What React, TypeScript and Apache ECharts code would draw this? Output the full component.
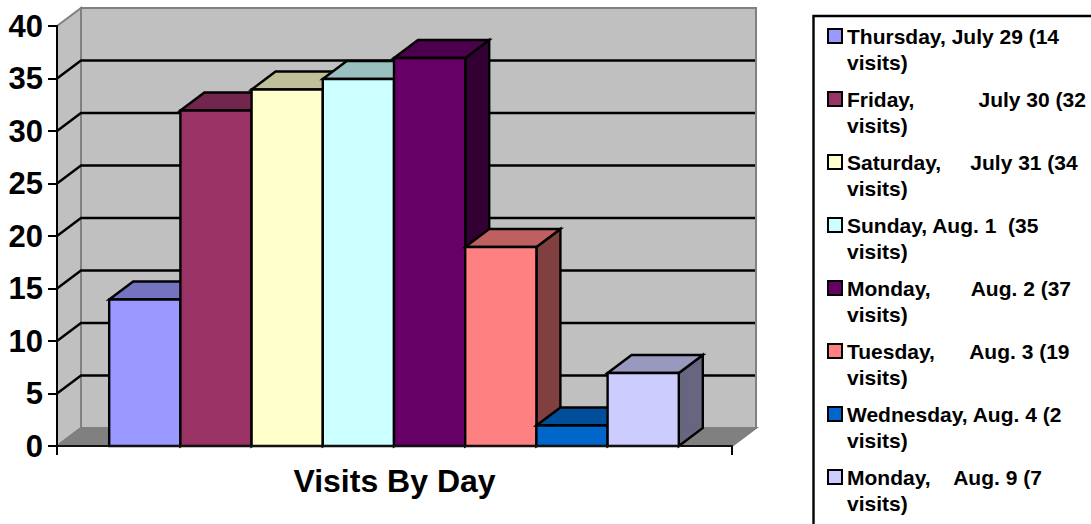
import React, { useEffect, useRef } from "react";
import * as echarts from "echarts";

const axisCategories = ["Visits By Day"];
const dayNames = [
  "Thursday, July 29 (14 visits)",
  "Friday,           July 30 (32 visits)",
  "Saturday,     July 31 (34 visits)",
  "Sunday, Aug. 1  (35 visits)",
  "Monday,       Aug. 2 (37 visits)",
  "Tuesday,      Aug. 3 (19 visits)",
  "Wednesday, Aug. 4 (2 visits)",
  "Monday,    Aug. 9 (7 visits)",
];
const visits = [14, 32, 34, 35, 37, 19, 2, 7];
const barColors = ["#9999FF", "#993366", "#FFFFCC", "#CCFFFF", "#660066", "#FF8080", "#0066CC", "#CCCCFF"];
const gridValues = [5, 10, 15, 20, 25, 30, 35];
const wallValues = [0, 40];

const DEPTH_X = 24;
const DEPTH_Y = -18;
const SLOTS = 9.48;
const FONT = '"Liberation Sans", Arial, sans-serif';

const shade = (hex: string, k: number) => {
  const n = parseInt(hex.slice(1), 16);
  const c = [(n >> 16) & 255, (n >> 8) & 255, n & 255].map((v) => Math.round(v * k));
  return `rgb(${c[0]},${c[1]},${c[2]})`;
};

const renderWalls = (params: any, api: any) => {
  const cs = params.coordSys;
  const left = cs.x;
  const right = cs.x + cs.width;
  const y0 = api.coord([0, wallValues[0]])[1];
  const y1 = api.coord([0, wallValues[1]])[1];
  const gray = "#808080";
  const poly = (points: number[][], fill: string) => ({
    type: "polygon",
    shape: { points },
    style: { fill, stroke: gray, lineWidth: 2 },
  });
  const children: any[] = [
    poly([[left, y1], [left + DEPTH_X, y1 + DEPTH_Y], [left + DEPTH_X, y0 + DEPTH_Y], [left, y0]], "#C0C0C0"),
    poly([[left + DEPTH_X, y1 + DEPTH_Y], [right + DEPTH_X, y1 + DEPTH_Y], [right + DEPTH_X, y0 + DEPTH_Y], [left + DEPTH_X, y0 + DEPTH_Y]], "#C0C0C0"),
    poly([[left, y0], [left + DEPTH_X, y0 + DEPTH_Y], [right + DEPTH_X, y0 + DEPTH_Y], [right, y0]], "#808080"),
  ];
  gridValues.forEach((v) => {
    const y = api.coord([0, v])[1];
    children.push({
      type: "polyline",
      shape: { points: [[left, y], [left + DEPTH_X, y + DEPTH_Y], [right + DEPTH_X - 1, y + DEPTH_Y]] },
      style: { fill: "none", stroke: "#000", lineWidth: 2.4 },
    });
  });
  return { type: "group", children };
};

const renderBar = (index: number) => (_params: any, api: any) => {
  const band = api.size([1, 0])[0];
  const w = band / SLOTS;
  const center = api.coord([0, 0])[0];
  const x0 = center + (index - visits.length / 2) * w - 0.5;
  const x1 = x0 + w;
  const yB = api.coord([0, 0])[1];
  const yT = api.coord([0, api.value(1)])[1] + 0.5;
  const color = barColors[index];
  const face = (points: number[][], fill: string) => ({
    type: "polygon",
    shape: { points },
    style: { fill, stroke: "#000", lineWidth: 2.4, lineJoin: "miter" },
  });
  return {
    type: "group",
    children: [
      face([[x1, yT], [x1 + DEPTH_X, yT + DEPTH_Y], [x1 + DEPTH_X, yB + DEPTH_Y], [x1, yB]], shade(color, 0.5)),
      face([[x0, yT], [x0 + DEPTH_X, yT + DEPTH_Y], [x1 + DEPTH_X, yT + DEPTH_Y], [x1, yT]], shade(color, 0.75)),
      face([[x0, yT], [x1, yT], [x1, yB], [x0, yB]], color),
    ],
  };
};

export default function App() {
  const ref = useRef<HTMLDivElement>(null);
  useEffect(() => {
    const chart = echarts.init(ref.current!, undefined, { renderer: "svg" });
    chart.setOption({
      animation: false,
      backgroundColor: "#fff",
      textStyle: { fontFamily: FONT },
      grid: { left: 57, top: 26, width: 675, height: 420 },
      xAxis: {
        type: "category",
        data: axisCategories,
        z: 5,
        axisLine: { lineStyle: { color: "#111", width: 2 } },
        axisTick: { show: true, length: 9, lineStyle: { color: "#000", width: 2 } },
        axisLabel: { interval: 0, margin: 19, color: "#000", fontSize: 32, fontWeight: "bold", fontFamily: FONT },
        splitLine: { show: false },
      },
      yAxis: {
        type: "value",
        min: 0,
        max: 40,
        interval: 5,
        z: 5,
        axisLine: { show: true, lineStyle: { color: "#000", width: 2 } },
        axisTick: { show: true, length: 9, lineStyle: { color: "#000", width: 2 } },
        axisLabel: { margin: 14, color: "#000", fontSize: 31, fontWeight: "bold", fontFamily: FONT },
        splitLine: { show: false },
      },
      legend: {
        orient: "vertical",
        left: 827,
        top: -3,
        height: 620,
        padding: 0,
        itemGap: -15,
        itemWidth: 14,
        itemHeight: 14,
        icon: "rect",
        selectedMode: false,
        data: dayNames,
        itemStyle: { borderColor: "#000", borderWidth: 2 },
        formatter: (name: string) => "\n" + name.replace(" visits)", "\nvisits)"),
        textStyle: {
          color: "#000",
          fontFamily: FONT,
          fontWeight: "bold",
          fontSize: 21,
          lineHeight: 26,
        },
      },
      graphic: [
        {
          type: "rect",
          shape: { x: 813.5, y: 16, width: 400, height: 600 },
          style: { fill: "none", stroke: "#000", lineWidth: 2.4 },
        },
      ],
      series: [
        {
          type: "custom",
          name: "walls",
          renderItem: renderWalls,
          data: [[0, 0]],
          encode: { x: 0, y: 1 },
          silent: true,
          z: 1,
        },
        ...dayNames.map((name, i) => ({
          type: "custom",
          name,
          renderItem: renderBar(i),
          data: [[0, visits[i]]],
          encode: { x: 0, y: 1 },
          itemStyle: { color: barColors[i] },
          z: 2,
        })),
      ],
    });
    return () => chart.dispose();
  }, []);
  return <div ref={ref} style={{ position: "absolute", left: 0, top: 0, width: 1091, height: 524 }} />;
}
